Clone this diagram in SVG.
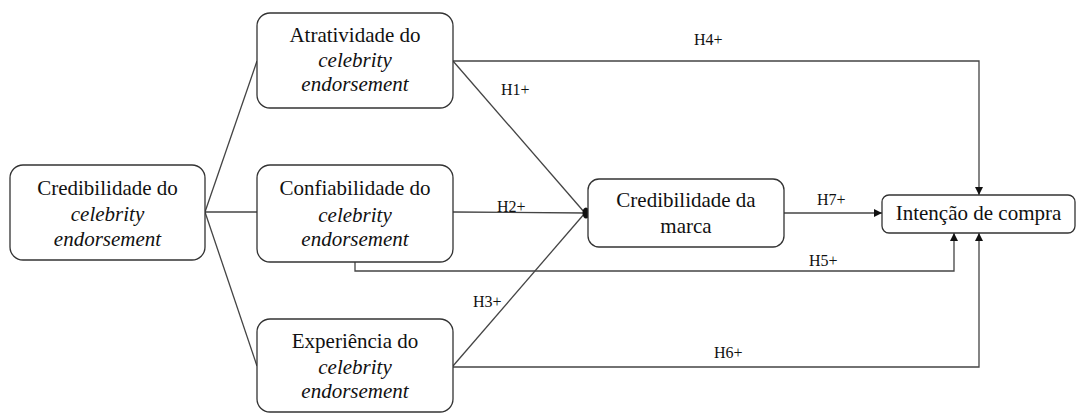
<svg xmlns="http://www.w3.org/2000/svg" width="1076" height="413" viewBox="0 0 1076 413">
<defs>
<style>
text{font-family:"Liberation Serif","Times New Roman",serif}
.box{fill:#fff;stroke:#333;stroke-width:1.3}
.nt{font-size:21px;fill:#111;text-anchor:middle}
.it{font-style:italic}
.lbl{font-size:16px;fill:#111}
.ln{fill:none;stroke:#444;stroke-width:1.3}
</style>
<marker id="ar" viewBox="0 0 10 10" refX="10" refY="5" markerWidth="8" markerHeight="8" markerUnits="userSpaceOnUse" orient="auto">
<path d="M0,0 L10,5 L0,10 z" fill="#111"/>
</marker>
</defs>
<rect width="1076" height="413" fill="#fff"/>
<g id="connectors">
<line class="ln" x1="205" y1="212" x2="257" y2="61"/>
<line class="ln" x1="205" y1="212" x2="257" y2="212"/>
<line class="ln" x1="205" y1="212" x2="257" y2="366"/>
<line class="ln" x1="453" y1="61" x2="585" y2="213"/>
<line class="ln" x1="453" y1="212" x2="585" y2="213"/>
<line class="ln" x1="453" y1="366" x2="585" y2="213"/>
<ellipse cx="586" cy="213" rx="3.5" ry="5.5" fill="#111"/>
<polyline class="ln" points="453,61 979,61 979,195" marker-end="url(#ar)"/>
<polyline class="ln" points="355,262 355,271 954,271 954,233" marker-end="url(#ar)"/>
<polyline class="ln" points="453,367 979,367 979,233" marker-end="url(#ar)"/>
<line class="ln" x1="784" y1="213" x2="882" y2="213" marker-end="url(#ar)"/>
<text class="lbl" x="694" y="45">H4+</text>
<text class="lbl" x="501" y="95">H1+</text>
<text class="lbl" x="497" y="212">H2+</text>
<text class="lbl" x="473" y="307">H3+</text>
<text class="lbl" x="809" y="266">H5+</text>
<text class="lbl" x="714" y="358">H6+</text>
<text class="lbl" x="817" y="205">H7+</text>
</g>
<g id="n-cred-celeb">
<rect class="box" x="10" y="165" width="195" height="95" rx="13"/>
<text class="nt" x="107.5" y="195">Credibilidade do</text>
<text class="nt it" x="107.5" y="221">celebrity</text>
<text class="nt it" x="107.5" y="246">endorsement</text>
</g>
<g id="n-atrat">
<rect class="box" x="257" y="13" width="196" height="95" rx="13"/>
<text class="nt" x="355" y="42">Atratividade do</text>
<text class="nt it" x="355" y="67">celebrity</text>
<text class="nt it" x="355" y="91">endorsement</text>
</g>
<g id="n-confi">
<rect class="box" x="257" y="165" width="196" height="97" rx="13"/>
<text class="nt" x="355" y="195">Confiabilidade do</text>
<text class="nt it" x="355" y="222">celebrity</text>
<text class="nt it" x="355" y="246">endorsement</text>
</g>
<g id="n-exper">
<rect class="box" x="257" y="319" width="196" height="93" rx="13"/>
<text class="nt" x="355" y="348">Experiência do</text>
<text class="nt it" x="355" y="374">celebrity</text>
<text class="nt it" x="355" y="398">endorsement</text>
</g>
<g id="n-marca">
<rect class="box" x="588" y="179" width="196" height="68" rx="11"/>
<text class="nt" x="686" y="207">Credibilidade da</text>
<text class="nt" x="686" y="233">marca</text>
</g>
<g id="n-intencao">
<rect class="box" x="882" y="195" width="193" height="38" rx="7"/>
<text class="nt" x="978.5" y="220">Intenção de compra</text>
</g>
</svg>
